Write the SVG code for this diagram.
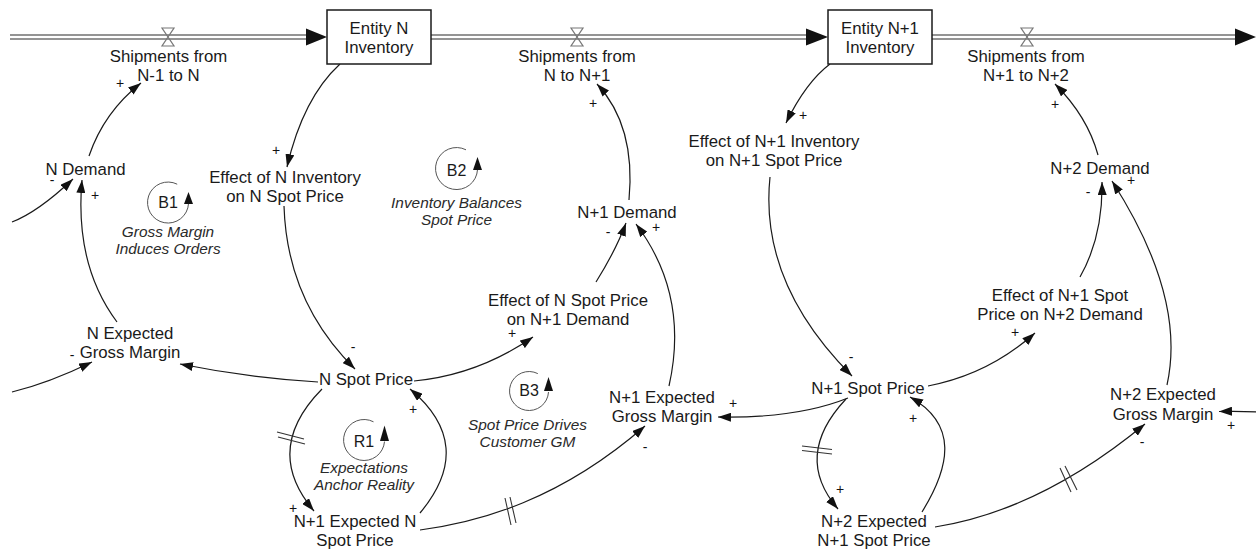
<svg xmlns="http://www.w3.org/2000/svg" width="1256" height="550" viewBox="0 0 1256 550">
<defs>
<style>
.t{font-family:"Liberation Sans",Arial,sans-serif;font-size:16.8px;fill:#1a1a1a;text-anchor:middle}
.it{font-style:italic;font-size:15.4px;fill:#2a2a2a}
.lp{font-size:16px}
.sg{font-family:"Liberation Sans",Arial,sans-serif;font-size:14px;fill:#111;text-anchor:middle}
.cn{fill:none;stroke:#1a1a1a;stroke-width:1.2;marker-end:url(#ah)}
.pipe{fill:none;stroke:#2a2a2a;stroke-width:1.2}
.valve{fill:none;stroke:#777;stroke-width:1.2}
.fh{fill:#111}
.box{fill:#fff;stroke:#1a1a1a;stroke-width:1.5}
.loop{fill:none;stroke:#555;stroke-width:1}
.la{fill:#111}
.dl{stroke:#333;stroke-width:1.1}
</style>
<marker id="ah" viewBox="0 0 13 9" refX="13" refY="4.5" markerWidth="13" markerHeight="9" markerUnits="userSpaceOnUse" orient="auto">
<path d="M0,0 L13,4.5 L0,9 Z" fill="#111"/>
</marker>
</defs>
<rect width="1256" height="550" fill="#fff"/>

<g id="flows">
<path class="pipe" d="M10,35 H310 M10,39 H310"/>
<polygon class="fh" points="306,28.5 327,37 306,45.5"/>
<path class="pipe" d="M431,35 H810 M431,39 H810"/>
<polygon class="fh" points="806,28.5 828,37 806,45.5"/>
<path class="pipe" d="M932,35 H1238 M932,39 H1238"/>
<polygon class="fh" points="1235,28.5 1256,37 1235,45.5"/>
<path class="valve" d="M162,28 L174,28 L162,46 L174,46 Z"/>
<path class="valve" d="M571,28 L583,28 L571,46 L583,46 Z"/>
<path class="valve" d="M1021,28 L1033,28 L1021,46 L1033,46 Z"/>
</g>

<g id="connectors">
<path class="cn" d="M89,156 Q104,112 141,83"/>
<path class="cn" d="M340,64 Q303,98 287,167"/>
<path class="cn" d="M284,206 Q287,302 355,369"/>
<path class="cn" d="M318,382 Q249,378 180,364"/>
<path class="cn" d="M12,392 Q49,383 92,362"/>
<path class="cn" d="M12,222 Q38,212 73,179"/>
<path class="cn" d="M117,322 Q74.5,265 82,180"/>
<path class="cn" d="M414,381 Q478,375 533,337"/>
<path class="cn" d="M596,282 Q616,250 626,223"/>
<path class="cn" d="M629,200 Q636,126 597,84"/>
<path class="cn" d="M669,386 Q689.5,295 636,224"/>
<path class="cn" d="M420,513 Q477,445 410,389"/>
<path class="cn" d="M322,389 Q262,450 314,511"/>
<path class="cn" d="M420,530 C480,522 560,500 645,426"/>
<path class="cn" d="M848,398 Q797,418.5 718,417"/>
<path class="cn" d="M830,64 Q806,82 786,123"/>
<path class="cn" d="M770,177 Q759,283 852,376"/>
<path class="cn" d="M928,386 Q988.5,374.5 1035,333"/>
<path class="cn" d="M1080,277 Q1103,236.5 1102,182"/>
<path class="cn" d="M1098,155 Q1087.5,116.5 1055,84"/>
<path class="cn" d="M1167,385 Q1186.5,297 1112,181"/>
<path class="cn" d="M922,512 C950.8,465.6 957.9,424 910,397"/>
<path class="cn" d="M846,399 Q792.5,456 838,509"/>
<path class="cn" d="M935,527 Q1040,510.5 1145,424"/>
<path class="cn" d="M1258,412 Q1240,411 1219,411.5"/>
<path class="dl" d="M277,432 L304,439 M278,437 L305,444"/>
<path class="dl" d="M505,498 L511,525 M510,497 L516,523"/>
<path class="dl" d="M802,446 L832,449.5 M802,450.5 L832,454"/>
<path class="dl" d="M1060,468 L1071,492 M1065,466 L1077,490"/>
</g>

<g id="signs">
<text class="sg" x="120" y="87.5">+</text>
<text class="sg" x="276" y="154.5">+</text>
<text class="sg" x="353" y="352">-</text>
<text class="sg" x="72" y="360">-</text>
<text class="sg" x="52" y="185">-</text>
<text class="sg" x="95" y="199.5">+</text>
<text class="sg" x="512" y="338">+</text>
<text class="sg" x="608" y="237">-</text>
<text class="sg" x="593" y="107.5">+</text>
<text class="sg" x="656" y="231.5">+</text>
<text class="sg" x="413" y="413.5">+</text>
<text class="sg" x="293" y="512.5">+</text>
<text class="sg" x="645" y="452">-</text>
<text class="sg" x="733" y="407.5">+</text>
<text class="sg" x="803" y="119.5">+</text>
<text class="sg" x="851" y="362">-</text>
<text class="sg" x="1015" y="336.5">+</text>
<text class="sg" x="1088" y="197">-</text>
<text class="sg" x="1055" y="108.5">+</text>
<text class="sg" x="1131" y="185">+</text>
<text class="sg" x="913" y="422.5">+</text>
<text class="sg" x="840" y="493.5">+</text>
<text class="sg" x="1142" y="447">-</text>
<text class="sg" x="1231" y="429.5">+</text>
</g>

<g id="entityN"><rect class="box" x="327" y="10" width="104" height="54"/><text class="t" x="379" y="33.5">Entity N</text><text class="t" x="379" y="52.5">Inventory</text></g>
<g id="entityN1"><rect class="box" x="828" y="10" width="104" height="54"/><text class="t" x="880" y="33.5">Entity N+1</text><text class="t" x="880" y="52.5">Inventory</text></g>
<g id="shipN1toN"><text class="t" x="168.5" y="61.5">Shipments from</text><text class="t" x="168.5" y="80.5">N-1 to N</text></g>
<g id="shipNtoN1"><text class="t" x="577" y="61.5">Shipments from</text><text class="t" x="577" y="80.5">N to N+1</text></g>
<g id="shipN1toN2"><text class="t" x="1026" y="61.5">Shipments from</text><text class="t" x="1026" y="80.5">N+1 to N+2</text></g>
<g id="nDemand"><text class="t" x="85.5" y="174.5">N Demand</text></g>
<g id="effNInv"><text class="t" x="285" y="182.5">Effect of N Inventory</text><text class="t" x="285" y="201.5">on N Spot Price</text></g>
<g id="nExpGM"><text class="t" x="130" y="339">N Expected</text><text class="t" x="130" y="358">Gross Margin</text></g>
<g id="nSpot"><text class="t" x="366" y="385">N Spot Price</text></g>
<g id="n1ExpNSpot"><text class="t" x="355" y="526.5">N+1 Expected N</text><text class="t" x="355" y="546">Spot Price</text></g>
<g id="effNSpot"><text class="t" x="568" y="306">Effect of N Spot Price</text><text class="t" x="568" y="325">on N+1 Demand</text></g>
<g id="n1Demand"><text class="t" x="627" y="218">N+1 Demand</text></g>
<g id="n1ExpGM"><text class="t" x="662" y="402.5">N+1 Expected</text><text class="t" x="662" y="422">Gross Margin</text></g>
<g id="effN1Inv"><text class="t" x="774" y="146.5">Effect of N+1 Inventory</text><text class="t" x="774" y="165.5">on N+1 Spot Price</text></g>
<g id="n1Spot"><text class="t" x="868" y="394">N+1 Spot Price</text></g>
<g id="n2ExpN1Spot"><text class="t" x="874" y="526.5">N+2 Expected</text><text class="t" x="874" y="546">N+1 Spot Price</text></g>
<g id="effN1Spot"><text class="t" x="1060" y="300.5">Effect of N+1 Spot</text><text class="t" x="1060" y="320">Price on N+2 Demand</text></g>
<g id="n2Demand"><text class="t" x="1100" y="173.5">N+2 Demand</text></g>
<g id="n2ExpGM"><text class="t" x="1163" y="400">N+2 Expected</text><text class="t" x="1163" y="419.5">Gross Margin</text></g>

<g id="loopB1">
<path class="loop" d="M177.2,184.2 A20.5,20.5 0 1 0 188.5,203.6"/>
<polygon class="la" points="188.5,192 184,204 193,204"/>
<text class="t lp" x="168" y="208">B1</text>
<text class="t it" x="168" y="237">Gross Margin</text>
<text class="t it" x="168" y="254">Induces Orders</text>
</g>
<g id="loopB2">
<path class="loop" d="M466,149.8 A21,21 0 1 0 477.5,169.6"/>
<polygon class="la" points="477.5,157 473,170 482,170"/>
<text class="t lp" x="456.5" y="175.5">B2</text>
<text class="t it" x="456.5" y="208">Inventory Balances</text>
<text class="t it" x="456.5" y="225">Spot Price</text>
</g>
<g id="loopB3">
<path class="loop" d="M537.8,373.6 A19.5,19.5 0 1 0 548.5,392"/>
<polygon class="la" points="548.5,377 544,391 553,391"/>
<text class="t lp" x="529" y="396">B3</text>
<text class="t it" x="527.5" y="430">Spot Price Drives</text>
<text class="t it" x="527.5" y="447">Customer GM</text>
</g>
<g id="loopR1">
<path class="loop" d="M373.5,421.8 A20.5,20.5 0 1 0 384.5,441.6"/>
<polygon class="la" points="384.5,425.5 380,441 389,441"/>
<text class="t lp" x="364" y="447">R1</text>
<text class="t it" x="364" y="473">Expectations</text>
<text class="t it" x="364" y="490">Anchor Reality</text>
</g>
</svg>
